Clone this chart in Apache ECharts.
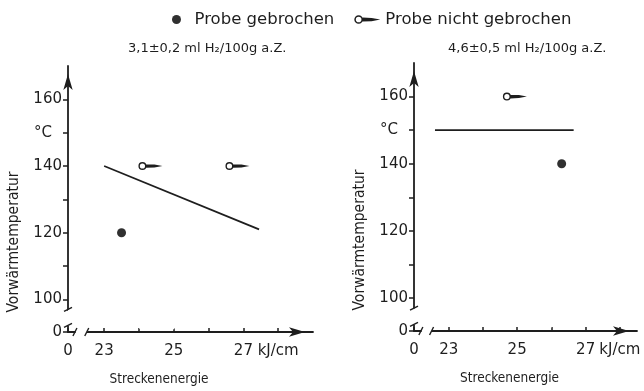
<!DOCTYPE html>
<html>
<head>
<meta charset="utf-8">
<script src="https://cdn.jsdelivr.net/npm/echarts@6/dist/echarts.min.js"></script>
<style>
  html, body { margin: 0; padding: 0; background: #ffffff; }
  #chart { width: 644px; height: 391px; }
</style>
</head>
<body>
<div id="chart"></div>
<script>
// Vorwärmtemperatur über Streckenenergie bei zwei Wasserstoffgehalten
const panelTitles = ['3,1±0,2 ml H₂/100g a.Z.', '4,6±0,5 ml H₂/100g a.Z.'];
const seriesNames = ['Probe gebrochen', 'Probe nicht gebrochen'];

// linkes Diagramm (3,1 ml H2)
const brokenLeft = [[23.5, 120]];
const intactLeft = [[24.1, 140], [26.6, 140]];
const limitLeft = [[23.0, 140], [27.45, 121]];

// rechtes Diagramm (4,6 ml H2)
const brokenRight = [[26.3, 140]];
const intactRight = [[24.7, 160]];
const limitRight = [[22.6, 150], [26.65, 150]];

// Achsen
const xLabelValues = [0, 23, 25, 27, 28];
const xTickValues = [0, 23, 24, 25, 26, 27, 28];
const yLabelValues = [0, 100, 120, 140, 150, 160];
const yTickValues = [0, 100, 110, 120, 130, 140, 150, 160];
const xBreak = [0.2, 22.5];
const yBreak = [2, 97];
const xUnit = 'kJ/cm';
const yUnit = '°C';
const xName = 'Streckenenergie';
const yName = 'Vorwärmtemperatur';

const ink = '#1e1e1e';
const font = 'DejaVu Sans, sans-serif';
const narrow = "'Liberation Sans Narrow', 'DejaVu Sans Condensed', 'DejaVu Sans', sans-serif";

// offener Kreis mit Pfeil nach rechts: "Probe nicht gebrochen"
const intactSymbol = 'path://M0,4A4,4 0 1 1 8,4A4,4 0 1 1 0,4ZM1.4,4A2.6,2.6 0 1 0 6.6,4A2.6,2.6 0 1 0 1.4,4ZM7.6,2.2L16,2.5L24,4L16,5.5L7.6,5.8Z';

function xAxisFor(gridIndex, max, namePad) {
  return {
    type: 'value', gridIndex, min: 0, max,
    breaks: [{ start: xBreak[0], end: xBreak[1], gap: '4.8%' }],
    breakArea: { show: true, expandOnClick: false,
      itemStyle: { color: '#ffffff', borderColor: '#ffffff', borderWidth: 0, opacity: 1 } },
    breakLabelLayout: { moveOverlap: false },
    splitLine: { show: false },
    axisLine: { onZero: false, symbol: ['none', 'arrow'], symbolSize: [7, 16], symbolOffset: [0, -8],
      lineStyle: { color: ink, width: 1.8 } },
    axisTick: { inside: true, length: 4, customValues: xTickValues, lineStyle: { color: ink, width: 1.5 } },
    axisLabel: { customValues: xLabelValues, margin: 12, fontSize: 15, fontFamily: font, color: ink,
      formatter: v => (v === 28 ? xUnit : String(v)) },
    name: xName, nameLocation: 'middle', nameGap: 40,
    nameTextStyle: { fontSize: 13.5, fontFamily: narrow, color: ink, padding: namePad }
  };
}

function yAxisFor(gridIndex, unitPad) {
  return {
    type: 'value', gridIndex, min: 0, max: 170,
    breaks: [{ start: yBreak[0], end: yBreak[1], gap: '6%' }],
    breakArea: { show: true, expandOnClick: false,
      itemStyle: { color: '#ffffff', borderColor: '#ffffff', borderWidth: 0, opacity: 1 } },
    breakLabelLayout: { moveOverlap: false },
    splitLine: { show: false },
    axisLine: { onZero: false, symbol: ['none', 'arrow'], symbolSize: [7, 16], symbolOffset: [0, -8],
      lineStyle: { color: ink, width: 1.8 } },
    axisTick: { length: 5, customValues: yTickValues, lineStyle: { color: ink, width: 1.5 } },
    axisLabel: { customValues: yLabelValues, margin: 6, fontSize: 15, fontFamily: font, color: ink,
      formatter: v => (v === 150 ? '{u|' + yUnit + '}' : String(v)),
      rich: { u: { fontSize: 15, fontFamily: font, color: ink, padding: [0, unitPad, 0, 0] } } },
    name: yName, nameLocation: 'middle', nameGap: 46,
    nameTextStyle: { fontSize: 15.5, fontFamily: narrow, color: ink, padding: [0, 86, 0, 0] }
  };
}

function panelSeries(idx, broken, intact, limit) {
  return [
    { name: seriesNames[0], type: 'scatter', xAxisIndex: idx, yAxisIndex: idx, data: broken,
      symbol: 'circle', symbolSize: 9, itemStyle: { color: '#303030', opacity: 1 }, z: 5 },
    { name: seriesNames[1], type: 'scatter', xAxisIndex: idx, yAxisIndex: idx, data: intact,
      symbol: intactSymbol, symbolSize: [24, 8], symbolOffset: [8, 0],
      itemStyle: { color: ink, opacity: 1 }, z: 5 },
    { type: 'line', xAxisIndex: idx, yAxisIndex: idx, data: limit, symbol: 'none',
      lineStyle: { color: ink, width: 1.7 }, silent: true, z: 4 }
  ];
}

const chart = echarts.init(document.getElementById('chart'), null, { renderer: 'canvas' });
chart.setOption({
  backgroundColor: '#ffffff',
  animation: false,
  title: [
    { text: panelTitles[0], left: 128, top: 42, padding: 0,
      textStyle: { fontSize: 13, fontWeight: 'normal', fontFamily: font, color: ink } },
    { text: panelTitles[1], left: 448, top: 42, padding: 0,
      textStyle: { fontSize: 13, fontWeight: 'normal', fontFamily: font, color: ink } }
  ],
  legend: {
    left: 172, top: 11, padding: 0, itemGap: 20, itemWidth: 26, itemHeight: 9,
    selectedMode: false,
    data: [
      { name: seriesNames[0], icon: 'circle' },
      { name: seriesNames[1], icon: intactSymbol }
    ],
    textStyle: { fontSize: 16.5, fontFamily: font, color: ink }
  },
  grid: [
    { left: 68, right: 331, top: 66, bottom: 57, containLabel: false },
    { left: 414, right: 7, top: 63, bottom: 60, containLabel: false }
  ],
  xAxis: [xAxisFor(0, 29, [0, 63, 0, 0]), xAxisFor(1, 28.5, [0, 32, 0, 0])],
  yAxis: [yAxisFor(0, 10), yAxisFor(1, 10)],
  series: [
    ...panelSeries(0, brokenLeft, intactLeft, limitLeft),
    ...panelSeries(1, brokenRight, intactRight, limitRight)
  ]
});

// kurze Schrägstriche an den Achsunterbrechungen
function breakMarks() {
  const marks = [];
  const stroke = { stroke: ink, lineWidth: 1.4 };
  [0, 1].forEach(g => {
    xBreak.forEach(v => {
      const [px, py] = chart.convertToPixel({ gridIndex: g }, [v, 0]);
      marks.push({ type: 'line', shape: { x1: px - 2, y1: py + 4, x2: px + 2, y2: py - 4 }, style: stroke, z: 200 });
    });
    yBreak.forEach(v => {
      const [px, py] = chart.convertToPixel({ gridIndex: g }, [0, v]);
      marks.push({ type: 'line', shape: { x1: px - 4, y1: py + 2, x2: px + 4, y2: py - 2 }, style: stroke, z: 200 });
    });
  });
  chart.setOption({ graphic: marks });
}
breakMarks();
</script>
</body>
</html>
